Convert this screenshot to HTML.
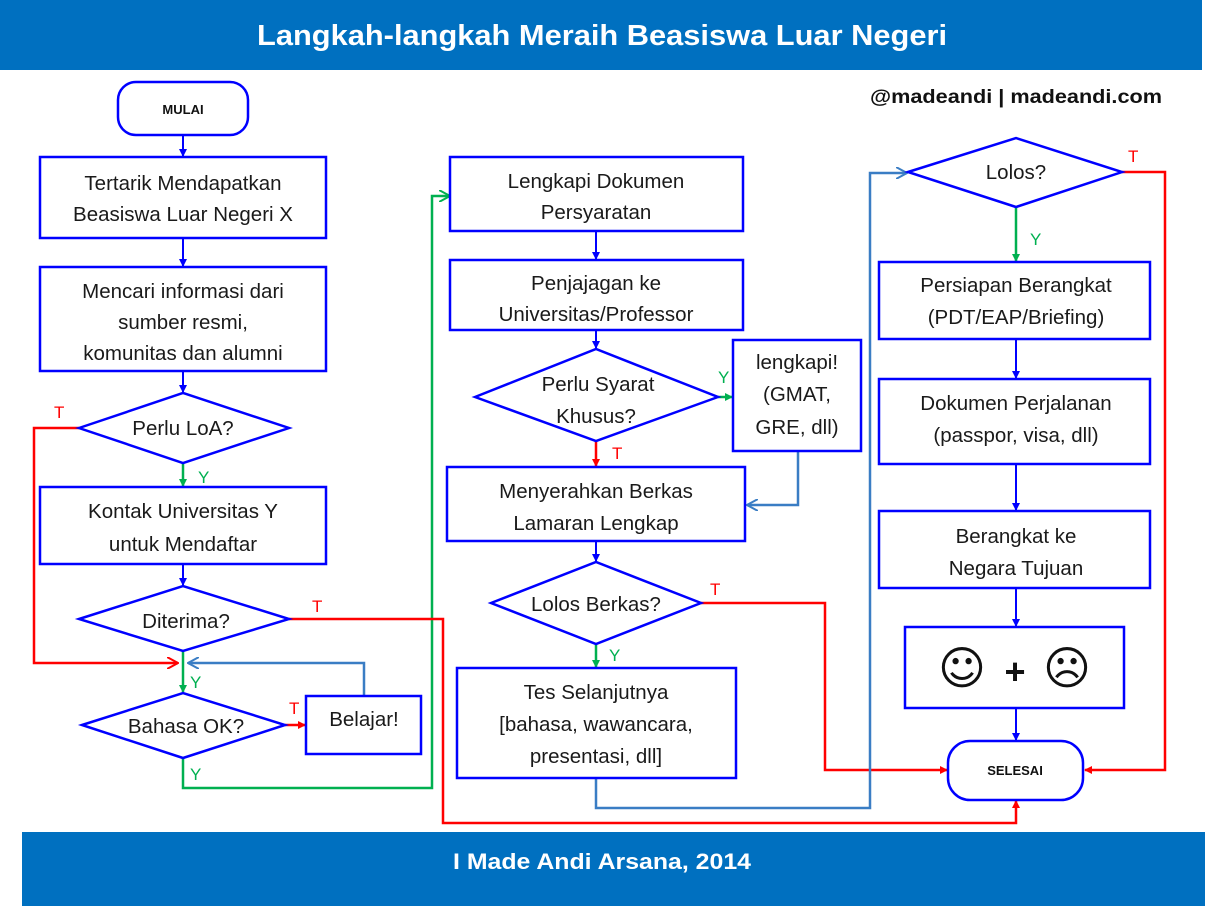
<!DOCTYPE html>
<html><head><meta charset="utf-8"><style>
body{margin:0;background:#fff;}
svg{display:block;font-family:"Liberation Sans",sans-serif;}
.t{font-size:20.5px;fill:#1a1a1a;text-anchor:middle;}
.b{fill:#fff;stroke:#0000ff;stroke-width:2.5;}
.lb{fill:none;stroke:#0000ff;stroke-width:2;}
.g{fill:none;stroke:#00b050;stroke-width:2.5;}
.r{fill:none;stroke:#ff0000;stroke-width:2.5;}
.s{fill:none;stroke:#3a7dc4;stroke-width:2.5;}
.gl{font-size:17px;fill:#00b050;}
.rl{font-size:17px;fill:#ff0000;}
</style></head><body>
<svg width="1205" height="906" viewBox="0 0 1205 906">
<rect x="0" y="0" width="1202" height="70" fill="#0070c0"/>
<text x="602" y="45" font-size="29" font-weight="bold" fill="#fff" text-anchor="middle" textLength="690" lengthAdjust="spacingAndGlyphs">Langkah-langkah Meraih Beasiswa Luar Negeri</text>
<rect x="22" y="832" width="1183" height="74" fill="#0070c0"/>
<text x="602" y="869" font-size="22" font-weight="bold" fill="#fff" text-anchor="middle" textLength="298" lengthAdjust="spacingAndGlyphs">I Made Andi Arsana, 2014</text>
<text x="1016" y="103" font-size="19" font-weight="bold" fill="#111" text-anchor="middle" textLength="292" lengthAdjust="spacingAndGlyphs">@madeandi | madeandi.com</text>

<defs>
<marker id="ab" markerWidth="8" markerHeight="8" refX="7" refY="4" orient="auto" markerUnits="userSpaceOnUse"><path d="M0,0 L8,4 L0,8z" fill="#0000ff"/></marker>
<marker id="ag" markerWidth="8" markerHeight="8" refX="7" refY="4" orient="auto" markerUnits="userSpaceOnUse"><path d="M0,0 L8,4 L0,8z" fill="#00b050"/></marker>
<marker id="ar" markerWidth="8" markerHeight="8" refX="7" refY="4" orient="auto" markerUnits="userSpaceOnUse"><path d="M0,0 L8,4 L0,8z" fill="#ff0000"/></marker>
<marker id="aro" markerWidth="12" markerHeight="12" refX="11" refY="6" orient="auto" markerUnits="userSpaceOnUse"><path d="M0,0 L11,6 L0,12" fill="none" stroke="#ff0000" stroke-width="2"/></marker>
<marker id="aso" markerWidth="12" markerHeight="12" refX="11" refY="6" orient="auto" markerUnits="userSpaceOnUse"><path d="M0,0 L11,6 L0,12" fill="none" stroke="#3a7dc4" stroke-width="2"/></marker>
<marker id="ago" markerWidth="12" markerHeight="12" refX="11" refY="6" orient="auto" markerUnits="userSpaceOnUse"><path d="M0,0 L11,6 L0,12" fill="none" stroke="#00b050" stroke-width="2"/></marker>
</defs>

<line class="lb" x1="183" y1="135" x2="183" y2="156" marker-end="url(#ab)"/>
<line class="lb" x1="183" y1="238" x2="183" y2="266" marker-end="url(#ab)"/>
<line class="lb" x1="183" y1="371" x2="183" y2="392" marker-end="url(#ab)"/>
<line class="g" x1="183" y1="463" x2="183" y2="486" marker-end="url(#ag)"/>
<text class="gl" x="198" y="483">Y</text>
<line class="lb" x1="183" y1="564" x2="183" y2="585" marker-end="url(#ab)"/>
<line class="g" x1="183" y1="651" x2="183" y2="692" marker-end="url(#ag)"/>
<text class="gl" x="190" y="688">Y</text>
<polyline class="r" points="79,428 34,428 34,663 178,663" marker-end="url(#aro)"/>
<text class="rl" x="54" y="418">T</text>
<polyline class="s" points="364,696 364,663 188,663" marker-end="url(#aso)"/>
<line class="r" x1="285" y1="725" x2="305" y2="725" marker-end="url(#ar)"/>
<text class="rl" x="289" y="714">T</text>
<polyline class="g" points="183,758 183,788 432,788 432,196 450,196" marker-end="url(#ago)"/>
<text class="gl" x="190" y="780">Y</text>
<polyline class="r" points="289,619 443,619 443,823 1016,823 1016,801" marker-end="url(#ar)"/>
<text class="rl" x="312" y="612">T</text>

<line class="lb" x1="596" y1="231" x2="596" y2="259" marker-end="url(#ab)"/>
<line class="lb" x1="596" y1="330" x2="596" y2="348" marker-end="url(#ab)"/>
<line class="g" x1="718" y1="397" x2="732" y2="397" marker-end="url(#ag)"/>
<text class="gl" x="718" y="383">Y</text>
<line class="r" x1="596" y1="441" x2="596" y2="466" marker-end="url(#ar)"/>
<text class="rl" x="612" y="459">T</text>
<polyline class="s" points="798,451 798,505 747,505" marker-end="url(#aso)"/>
<line class="lb" x1="596" y1="541" x2="596" y2="561" marker-end="url(#ab)"/>
<line class="g" x1="596" y1="644" x2="596" y2="667" marker-end="url(#ag)"/>
<text class="gl" x="609" y="661">Y</text>
<polyline class="r" points="701,603 825,603 825,770 947,770" marker-end="url(#ar)"/>
<text class="rl" x="710" y="595">T</text>
<polyline class="s" points="596,778 596,808 870,808 870,173 907,173" marker-end="url(#aso)"/>

<line class="g" x1="1016" y1="207" x2="1016" y2="261" marker-end="url(#ag)"/>
<text class="gl" x="1030" y="245">Y</text>
<polyline class="r" points="1122,172 1165,172 1165,770 1085,770" marker-end="url(#ar)"/>
<text class="rl" x="1128" y="162">T</text>
<line class="lb" x1="1016" y1="339" x2="1016" y2="378" marker-end="url(#ab)"/>
<line class="lb" x1="1016" y1="464" x2="1016" y2="510" marker-end="url(#ab)"/>
<line class="lb" x1="1016" y1="588" x2="1016" y2="626" marker-end="url(#ab)"/>
<line class="lb" x1="1016" y1="708" x2="1016" y2="740" marker-end="url(#ab)"/>

<rect class="b" x="118" y="82" width="130" height="53" rx="18"/>
<text x="183" y="114" font-size="13" font-weight="bold" text-anchor="middle" fill="#111">MULAI</text>
<rect class="b" x="40" y="157" width="286" height="81"/>
<text class="t" x="183" y="190">Tertarik Mendapatkan</text>
<text class="t" x="183" y="221">Beasiswa Luar Negeri X</text>
<rect class="b" x="40" y="267" width="286" height="104"/>
<text class="t" x="183" y="298">Mencari informasi dari</text>
<text class="t" x="183" y="329">sumber resmi,</text>
<text class="t" x="183" y="360">komunitas dan alumni</text>
<polygon class="b" points="79,428 183,393 289,428 183,463"/>
<text class="t" x="183" y="435">Perlu LoA?</text>
<rect class="b" x="40" y="487" width="286" height="77"/>
<text class="t" x="183" y="518">Kontak Universitas Y</text>
<text class="t" x="183" y="551">untuk Mendaftar</text>
<polygon class="b" points="79,619 183,586 289,619 183,651"/>
<text class="t" x="186" y="628">Diterima?</text>
<polygon class="b" points="82,725 183,693 285,725 183,758"/>
<text class="t" x="186" y="733">Bahasa OK?</text>
<rect class="b" x="306" y="696" width="115" height="58"/>
<text class="t" x="364" y="726">Belajar!</text>

<rect class="b" x="450" y="157" width="293" height="74"/>
<text class="t" x="596" y="188">Lengkapi Dokumen</text>
<text class="t" x="596" y="219">Persyaratan</text>
<rect class="b" x="450" y="260" width="293" height="70"/>
<text class="t" x="596" y="290">Penjajagan ke</text>
<text class="t" x="596" y="321">Universitas/Professor</text>
<polygon class="b" points="475,397 596,349 718,397 596,441"/>
<text class="t" x="598" y="391">Perlu Syarat</text>
<text class="t" x="596" y="423">Khusus?</text>
<rect class="b" x="733" y="340" width="128" height="111"/>
<text class="t" x="797" y="369">lengkapi!</text>
<text class="t" x="797" y="401">(GMAT,</text>
<text class="t" x="797" y="434">GRE, dll)</text>
<rect class="b" x="447" y="467" width="298" height="74"/>
<text class="t" x="596" y="498">Menyerahkan Berkas</text>
<text class="t" x="596" y="530">Lamaran Lengkap</text>
<polygon class="b" points="491,603 596,562 701,603 596,644"/>
<text class="t" x="596" y="611">Lolos Berkas?</text>
<rect class="b" x="457" y="668" width="279" height="110"/>
<text class="t" x="596" y="699">Tes Selanjutnya</text>
<text class="t" x="596" y="731">[bahasa, wawancara,</text>
<text class="t" x="596" y="763">presentasi, dll]</text>

<polygon class="b" points="908,172 1016,138 1122,172 1016,207"/>
<text class="t" x="1016" y="179">Lolos?</text>
<rect class="b" x="879" y="262" width="271" height="77"/>
<text class="t" x="1016" y="292">Persiapan Berangkat</text>
<text class="t" x="1016" y="324">(PDT/EAP/Briefing)</text>
<rect class="b" x="879" y="379" width="271" height="85"/>
<text class="t" x="1016" y="410">Dokumen Perjalanan</text>
<text class="t" x="1016" y="442">(passpor, visa, dll)</text>
<rect class="b" x="879" y="511" width="271" height="77"/>
<text class="t" x="1016" y="543">Berangkat ke</text>
<text class="t" x="1016" y="575">Negara Tujuan</text>
<rect class="b" x="905" y="627" width="219" height="81"/>
<text x="962" y="684" font-size="46" text-anchor="middle" fill="#111" font-family="DejaVu Sans">☺</text>
<text x="1015" y="684" font-size="36" font-weight="bold" text-anchor="middle" fill="#111">+</text>
<text x="1067" y="684" font-size="46" text-anchor="middle" fill="#111" font-family="DejaVu Sans">☹</text>
<rect class="b" x="948" y="741" width="135" height="59" rx="22"/>
<text x="1015" y="775" font-size="13" font-weight="bold" text-anchor="middle" fill="#111">SELESAI</text>
</svg>
</body></html>
